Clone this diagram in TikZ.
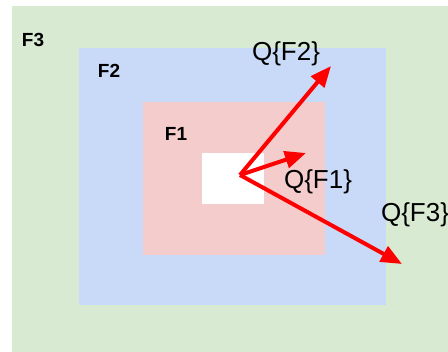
\documentclass[tikz,border=0pt]{standalone}
\usepackage{fontspec}
\setmainfont{Liberation Sans}
\usetikzlibrary{arrows.meta}
\definecolor{cgreen}{HTML}{D9EAD3}
\definecolor{cblue}{HTML}{C9DAF8}
\definecolor{cpink}{HTML}{F4CCCC}
\definecolor{cred}{HTML}{FF0000}
\tikzset{
  region/.style={draw=none,inner sep=0pt,anchor=north west},
  flabel/.style={font=\fontsize{19}{19}\selectfont\bfseries,inner sep=0pt},
  qlabel/.style={font=\fontsize{26}{26}\selectfont,inner sep=0pt},
  qarrow/.style={draw=cred,line width=4pt,-{Triangle[length=21pt,width=17pt]}}
}
\begin{document}
\begin{tikzpicture}[x=1pt,y=-1pt]
\useasboundingbox (0,0) rectangle (448,352);
\clip (0,0) rectangle (448,352);
\fill[white] (0,0) rectangle (448,352);
\node[region,fill=cgreen,minimum width=436pt,minimum height=346pt] (r3) at (12,6) {};
\node[region,fill=cblue,minimum width=307pt,minimum height=257pt] (r2) at (79,48) {};
\node[region,fill=cpink,minimum width=182pt,minimum height=153pt] (r1) at (143,102) {};
\node[region,fill=white,minimum width=62pt,minimum height=51pt] (r0) at (202,153) {};
\node[flabel] (f3) at (33,40) {F3};
\node[flabel] (f2) at (109,71) {F2};
\node[flabel] (f1) at (176,134) {F1};
\coordinate (o) at (240,175);
\coordinate (t2) at (331,66);
\coordinate (t1) at (306,153);
\coordinate (t3) at (402,264);
\draw[qarrow] (o) -- (t2);
\draw[qarrow] (o) -- (t1);
\draw[qarrow] (o) -- (t3);
\node[qlabel] (q2) at (286,54) {Q\{F2\}};
\node[qlabel] (q1) at (318,182) {Q\{F1\}};
\node[qlabel] (q3) at (415,215) {Q\{F3\}};
\end{tikzpicture}
\end{document}
